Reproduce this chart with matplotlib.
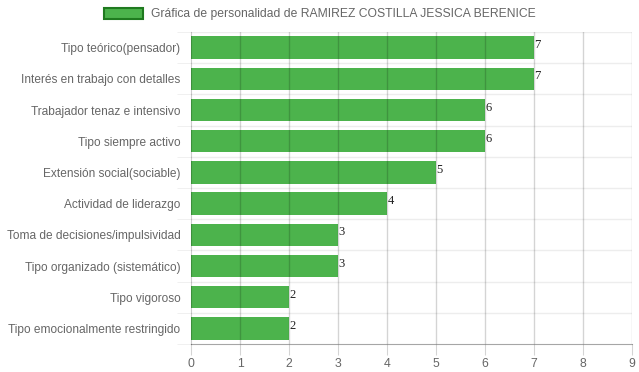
import matplotlib.pyplot as plt
from matplotlib.patches import Patch

categorias = ['Tipo teórico(pensador)', 'Interés en trabajo con detalles',
              'Trabajador tenaz e intensivo', 'Tipo siempre activo',
              'Extensión social(sociable)', 'Actividad de liderazgo',
              'Toma de decisiones/impulsividad', 'Tipo organizado (sistemático)',
              'Tipo vigoroso', 'Tipo emocionalmente restringido']
valores = [7, 7, 6, 6, 5, 4, 3, 3, 2, 2]
ticks_x = list(range(0, 10))
titulo = 'Gráfica de personalidad de RAMIREZ COSTILLA JESSICA BERENICE'

plt.rcParams['font.family'] = ['Liberation Sans', 'DejaVu Sans']

fig = plt.figure(figsize=(6.39, 3.72), dpi=100)
ax = fig.add_axes([191/639, 1-344/372, 441/639, 312/372])

n = len(categorias)
pos = list(range(n))
ax.barh(pos, valores, height=0.72, color='#4CB34C', zorder=2)
ax.set_ylim(n - 0.5, -0.5)
ax.set_xlim(0, 9)

# value labels
for p, v in zip(pos, valores):
    ax.text(v + 0.01, p - 0.08, str(v), fontsize=9, family='Liberation Serif',
            color='#222222', ha='left', va='center', zorder=4)

# grid
for x in ticks_x[1:]:
    ax.axvline(x, color=(0, 0, 0, 0.17), lw=1, zorder=3)
for i in range(n):
    ax.axhline(i - 0.5, color=(0, 0, 0, 0.07), lw=1, zorder=1)

ax.set_xticks(ticks_x)
ax.set_yticks(pos)
ax.set_yticklabels(categorias)
ax.set_yticks([i - 0.5 for i in range(n + 1)], minor=True)
ax.tick_params(axis='y', which='major', length=0, pad=7.5, labelsize=8.6, labelcolor='#666666')
ax.tick_params(axis='y', which='minor', length=10, color=(0, 0, 0, 0.07))
ax.tick_params(axis='x', length=8, color=(0, 0, 0, 0.17), labelsize=8.8,
               labelcolor='#666666', pad=2)

for s in ['top', 'right']:
    ax.spines[s].set_visible(False)
ax.spines['left'].set_color((0, 0, 0, 0.2))
ax.spines['bottom'].set_color((0, 0, 0, 0.35))

leg = fig.legend(handles=[Patch(facecolor='#4CB34C', edgecolor='#1f7a1f', lw=1.5, label=titulo)],
                 loc='center', bbox_to_anchor=(0.5, 1 - 14/372), frameon=False,
                 fontsize=8.7, handlelength=3.3, handleheight=1.1, handletextpad=0.6)
for t in leg.get_texts():
    t.set_color('#666666')

fig.savefig('out.png', dpi=100)
